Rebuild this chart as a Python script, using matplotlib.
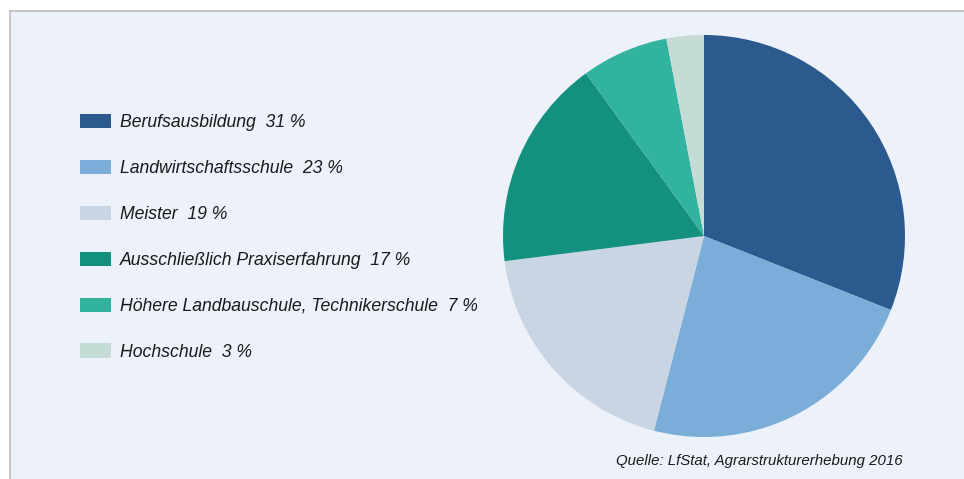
import matplotlib
matplotlib.use('Agg')
import matplotlib.pyplot as plt
from matplotlib.patches import Rectangle
from matplotlib.lines import Line2D

# Data
categories = ['Berufsausbildung', 'Landwirtschaftsschule', 'Meister',
              'Ausschließlich Praxiserfahrung',
              'Höhere Landbauschule, Technikerschule', 'Hochschule']
shares = [31, 23, 19, 17, 7, 3]
colors = ['#2b5a8f', '#7aaed8', '#c9d5e3', '#14907f', '#32b3a0', '#c5dbd5']
source = 'Quelle: LfStat, Agrarstrukturerhebung 2016'

plt.rcParams['font.family'] = ['Liberation Sans', 'DejaVu Sans']

W, H = 964, 479
fig = plt.figure(figsize=(W / 100, H / 100), dpi=100)
fig.patch.set_facecolor('white')

# panel background with thin grey border on top and left
fig.patches.append(Rectangle((10 / W, 0), 1, 1 - 11 / H, transform=fig.transFigure,
                             facecolor='#edf1f9', edgecolor='none', zorder=-5))
fig.lines.append(Line2D([10 / W, 1], [1 - 11 / H, 1 - 11 / H], transform=fig.transFigure,
                        color='#bdbdbd', lw=1.2, zorder=-4))
fig.lines.append(Line2D([10 / W, 10 / W], [0, 1 - 11 / H], transform=fig.transFigure,
                        color='#bdbdbd', lw=1.2, zorder=-4))

# pie: centre (704, 236), radius ~200 px
cx, cy, r = 704, 236, 201
ax = fig.add_axes([(cx - r) / W, (H - cy - r) / H, 2 * r / W, 2 * r / H])
ax.patch.set_visible(False)
wedges, _ = ax.pie(shares, colors=colors, startangle=90, counterclock=False,
                   radius=1, wedgeprops=dict(linewidth=0))
ax.set_xlim(-1, 1)
ax.set_ylim(-1, 1)
ax.set_aspect('auto')
ax.axis('off')

labels = [f'{c}  {v} %' for c, v in zip(categories, shares)]
leg = fig.legend(wedges, labels, loc='upper left',
                 bbox_to_anchor=(80 / W, 1 - 114 / H), frameon=False,
                 prop=dict(size=12.7, style='italic'),
                 handlelength=1.76, handleheight=0.85, handletextpad=0.5,
                 labelspacing=1.63, borderpad=0, borderaxespad=0)
for t in leg.get_texts():
    t.set_color('#1a1a1a')

fig.text(903 / W, 1 - 461 / H, source, ha='right', va='center',
         fontsize=10.8, style='italic', color='#1a1a1a')

fig.savefig('out.png', dpi=100, facecolor=fig.get_facecolor())
